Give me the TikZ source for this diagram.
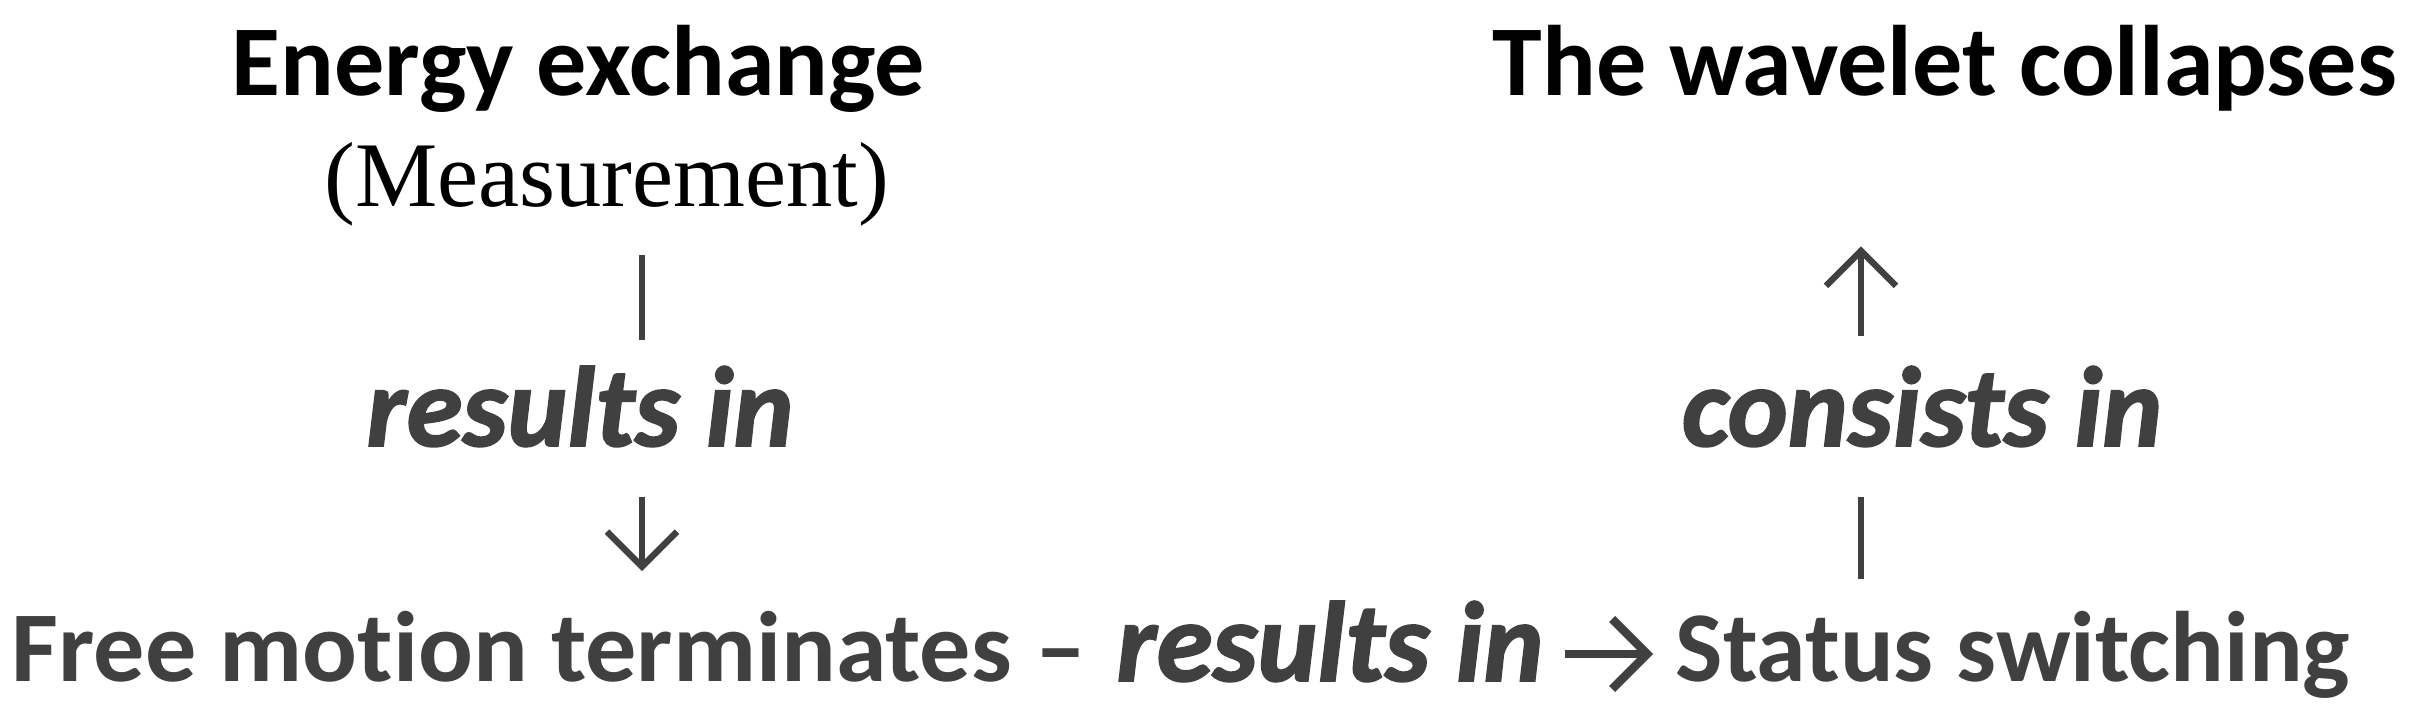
\documentclass[tikz,border=0pt]{standalone}
\usepackage{fontspec}
\usepackage{xcolor}
\usepackage{tikz}
\usetikzlibrary{positioning,arrows.meta}
\setmainfont{Carlito}[Ligatures=NoCommon]
\newfontfamily\verbfont{Carlito}[Ligatures=NoCommon, BoldItalicFeatures={FakeBold=1.6}]
\newfontfamily\timesfont{Liberation Serif}
\definecolor{inkgray}{HTML}{404040}

\begin{document}
\begin{tikzpicture}[
    title/.style={anchor=base, inner sep=0pt, font=\fontsize{28.5}{34}\selectfont\bfseries, text=black},
    verb/.style={anchor=base, inner sep=0pt, font=\verbfont\fontsize{32.4}{38}\selectfont\bfseries\itshape, text=inkgray},
    state/.style={anchor=base west, inner sep=0pt, font=\fontsize{28.5}{34}\selectfont\bfseries, text=inkgray},
    link/.style={draw=inkgray, line width=1.8pt},
    flow/.style={link, -{Straight Barb[length=0.35cm, width=0.7cm]}}
  ]
                \useasboundingbox (0,0) rectangle (24.26,7.24);
                % 两列竖线的位置
                \coordinate (lcol) at (6.42,0);
                \coordinate (rcol) at (18.61,0);

                % 上方标题
                \node[title] (energy) at (5.785,6.28) {Energy exchange};
                \node[anchor=base, inner sep=0pt, font=\timesfont\fontsize{26.3}{31}\selectfont] (meas) at (6.07,5.18) {(Measurement)};
                \node[title] (wave) at (19.45,6.28) {The wavelet collapses};

                % 中间的关系词
                \node[verb] (res1) at (5.80,2.78) {results in};
                \node[verb] (cons) at (19.22,2.78) {consists in};

                % 底部一行
                \node[state] (free) at (0.11,0.43) {\scalebox{1.02}[1]{Free motion terminates –}};
                \node[verb] (res2) at (13.30,0.43) {results in};
                \node[state] (status) at (16.75,0.43) {Status switching};

                % 连线
                \draw[link, shorten <=0.29cm, shorten >=0.25cm] (meas.south -| lcol) -- (res1.north -| lcol);
                \draw[flow, shorten <=0.49cm, shorten >=0.39cm] (res1.south -| lcol) -- (free.north -| lcol);
                \draw[flow, shorten <=0.29cm, shorten >=1.34cm] (cons.north -| rcol) -- (wave.south -| rcol);
                \draw[link, shorten <=0.49cm, shorten >=0.31cm] (cons.south -| rcol) -- (status.north -| rcol);
                \draw[flow, line width=2.4pt, shorten <=0.21cm, shorten >=0.22cm] ([yshift=0.27cm]res2.base east) -- ([yshift=0.27cm]status.base west);
            \end{tikzpicture}
\end{document}
